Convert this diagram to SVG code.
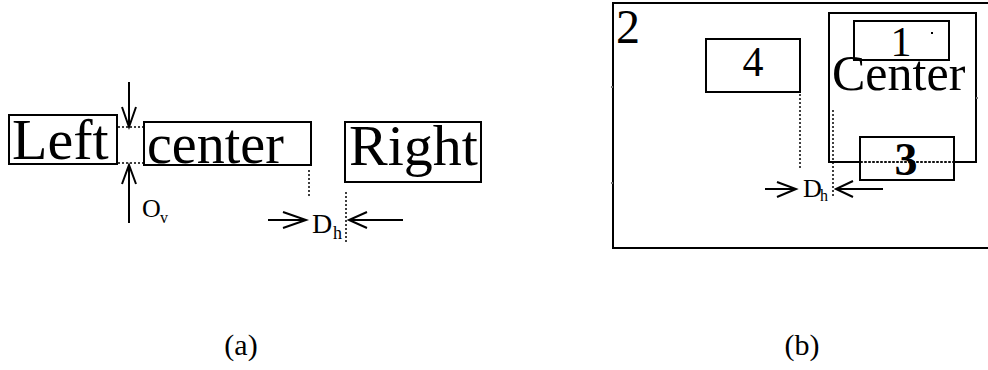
<svg xmlns="http://www.w3.org/2000/svg" width="988" height="370" viewBox="0 0 988 370">
<style>
.box{fill:none;stroke:#000;stroke-width:2}
.ln{fill:none;stroke:#000;stroke-width:2}
.dot{fill:none;stroke:#000;stroke-width:1.5;stroke-dasharray:2 2}
.t{font-family:'Liberation Serif','Times New Roman',Tinos,'Nimbus Roman','DejaVu Serif',serif;fill:#000}
.cap{font-family:'Liberation Serif','Times New Roman',Tinos,'Nimbus Roman','DejaVu Serif',serif;fill:#000;font-size:30px;text-anchor:middle}
</style>
<rect width="988" height="370" fill="#fff"/>
<!-- (a) -->
<g id="left">
<rect class="box" x="9" y="115" width="108" height="49"/>
<text class="t" x="12" y="159" font-size="58">Left</text>
</g>
<g id="center-a">
<rect class="box" x="144" y="122" width="167" height="43"/>
<text class="t" x="147" y="163" font-size="56">center</text>
</g>
<g id="right">
<rect class="box" x="345" y="122" width="136" height="60"/>
<text class="t" x="349" y="165" font-size="58">Right</text>
</g>
<g id="connectors-a">
<path class="ln" d="M129,82V127M122,107L129,127L136,107"/>
<path class="ln" d="M129,223V165M122,184L129,165L136,184"/>
<path class="dot" d="M118,127H143M118,163H143"/>
<path class="dot" d="M309,170V197M346,192V243"/>
<path class="ln" d="M268,220H306M283,212L306,220L283,228"/>
<path class="ln" d="M403,220H349M367,212L349,220L367,228"/>
</g>
<g id="label-ov">
<text class="t" x="142" y="217" font-size="26">O</text>
<text class="t" x="160" y="223" font-size="16">v</text>
</g>
<g id="label-dh-a">
<text class="t" x="312" y="233" font-size="28">D</text>
<text class="t" x="333" y="239" font-size="18">h</text>
</g>
<text class="cap" x="241" y="355">(a)</text>
<!-- (b) -->
<g id="node-2">
<rect class="box" x="613" y="3" width="380" height="245"/>
<text class="t" x="616" y="43" font-size="48">2</text>
<rect x="611" y="86" width="2" height="2" fill="#777"/>
<rect x="611" y="182" width="2" height="2" fill="#777"/>
</g>
<g id="node-4">
<rect class="box" x="706" y="39" width="94" height="53"/>
<text class="t" x="753" y="76" font-size="42" text-anchor="middle">4</text>
</g>
<g id="node-center">
<path class="ln" d="M860,162H829V13H976V162H954"/>
<path class="dot" d="M860,162H954"/>
<text class="t" x="832" y="90" font-size="50">Center</text>
<rect x="976" y="97" width="2" height="2" fill="#777"/>
</g>
<g id="node-1">
<rect class="box" x="854" y="21" width="95" height="39"/>
<text class="t" x="901" y="56" font-size="42" text-anchor="middle">1</text>
<rect x="931" y="32" width="2" height="2" fill="#000"/>
</g>
<g id="node-3">
<rect class="box" x="860" y="137" width="94" height="43"/>
<path class="dot" d="M861,162H953"/>
<text class="t" x="906" y="175" font-size="46" font-weight="bold" text-anchor="middle">3</text>
</g>
<g id="connectors-b">
<path class="dot" d="M800,94V168"/>
<path class="dot" d="M833,110V198"/>
<path class="ln" d="M765,189H796M777,182L796,189L777,197"/>
<path class="ln" d="M883,189H836M853,181L836,189L853,197"/>
</g>
<g id="label-dh-b">
<text class="t" x="803" y="197" font-size="26">D</text>
<text class="t" x="820" y="201" font-size="16">h</text>
</g>
<text class="cap" x="802" y="355">(b)</text>
</svg>
